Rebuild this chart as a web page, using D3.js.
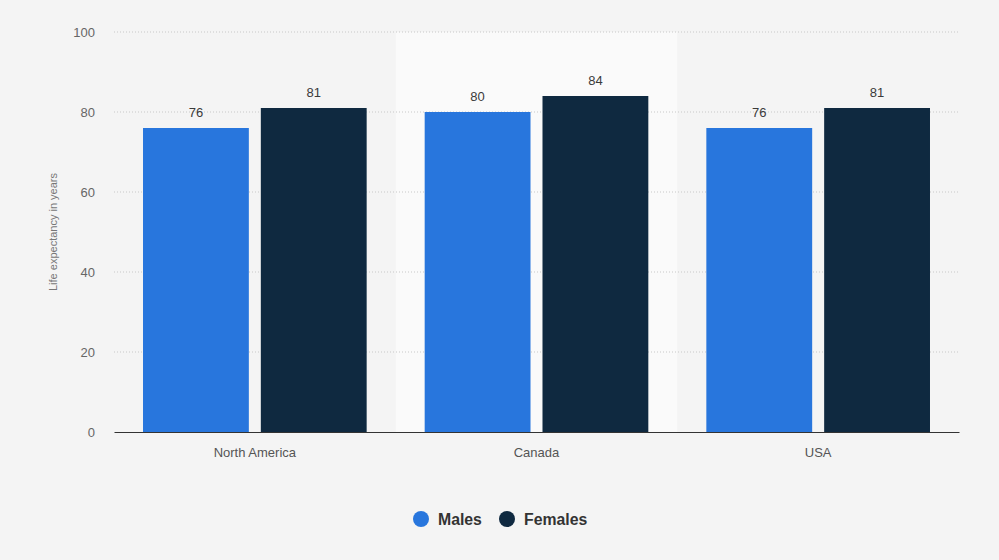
<!DOCTYPE html>
<html><head><meta charset="utf-8">
<script src="https://cdn.jsdelivr.net/npm/d3@7"></script>
<style>body{margin:0;background:#f4f4f4;font-family:"Liberation Sans",Arial,sans-serif;}</style>
</head><body>
<svg id="c" width="999" height="560"></svg>
<script>
const categories = ["North America", "Canada", "USA"];
const seriesNames = ["Males", "Females"];
const males = [76, 80, 76];
const females = [81, 84, 81];
const yTicks = [0, 20, 40, 60, 80, 100];
const colors = ["#2876dd", "#0f2940"];

const svg = d3.select("#c");
const m = {l:114, r:40, t:32, b:128};
const W = 999, H = 560;
const x0 = d3.scaleBand().domain(categories).range([m.l, W - m.r]).paddingInner(0).paddingOuter(0);
const bw0 = x0.bandwidth();
const x1 = d3.scaleBand().domain(seriesNames).range([bw0 * 0.103, bw0 * 0.897]).paddingInner(0.1017).paddingOuter(0);
const y = d3.scaleLinear().domain([0, 100]).range([H - m.b, m.t]);

svg.append("rect").attr("width", W).attr("height", H).attr("fill", "#f4f4f4");
// highlight band
svg.append("rect").attr("x", x0("Canada")).attr("y", y(100)).attr("width", x0.bandwidth())
  .attr("height", y(0) - y(100)).attr("fill", "#fafafa");

// grid
svg.append("g").selectAll("line").data(yTicks.filter(d => d > 0)).join("line")
  .attr("x1", m.l).attr("x2", W - m.r).attr("y1", d => y(d)).attr("y2", d => y(d))
  .attr("stroke", "#c8c8c8").attr("stroke-dasharray", "1,2").attr("stroke-width", 1);

// y axis labels
const ya = svg.append("g").attr("transform", `translate(${m.l},0)`)
  .call(d3.axisLeft(y).tickValues(yTicks).tickSize(0).tickPadding(19));
ya.select(".domain").remove();
ya.selectAll("text").attr("font-size", 13).attr("fill", "#666").attr("font-family", '"Liberation Sans",Arial,sans-serif');

const data = categories.map((c, i) => ({c, vals: [males[i], females[i]]}));
const g = svg.append("g").selectAll("g").data(data).join("g").attr("transform", d => `translate(${x0(d.c)},0)`);
g.selectAll("rect").data(d => d.vals.map((v, j) => ({k: seriesNames[j], v, j}))).join("rect")
  .attr("x", d => x1(d.k)).attr("width", x1.bandwidth())
  .attr("y", d => y(d.v)).attr("height", d => y(0) - y(d.v)).attr("fill", d => colors[d.j]);
g.selectAll("text").data(d => d.vals.map((v, j) => ({k: seriesNames[j], v, j}))).join("text")
  .attr("x", d => x1(d.k) + x1.bandwidth() / 2).attr("y", d => y(d.v) - 11)
  .attr("text-anchor", "middle").attr("font-size", 13).attr("fill", "#3a3a3a").text(d => d.v);

// x axis
const xa = svg.append("g").attr("transform", `translate(0,${y(0)})`)
  .call(d3.axisBottom(x0).tickSize(0).tickPadding(16));
xa.select(".domain").attr("stroke", "#333").attr("stroke-width", 1.2);
xa.selectAll("text").attr("font-size", 13).attr("fill", "#555").attr("font-family", '"Liberation Sans",Arial,sans-serif');

// y title
svg.append("text").attr("transform", `translate(57,${(y(0) + y(100)) / 2}) rotate(-90)`)
  .attr("text-anchor", "middle").attr("font-size", 11).attr("fill", "#777").text("Life expectancy in years");

// legend
const legX = [421, 507];
const lg = svg.append("g").selectAll("g").data(seriesNames).join("g")
  .attr("transform", (d, i) => `translate(${legX[i]},519)`);
lg.append("circle").attr("r", 8).attr("fill", (d, i) => colors[i]);
lg.append("text").attr("x", 17).attr("y", 5.5).attr("font-size", 15.8).attr("font-weight", "bold")
  .attr("fill", "#333").text(d => d);
</script>
</body></html>
